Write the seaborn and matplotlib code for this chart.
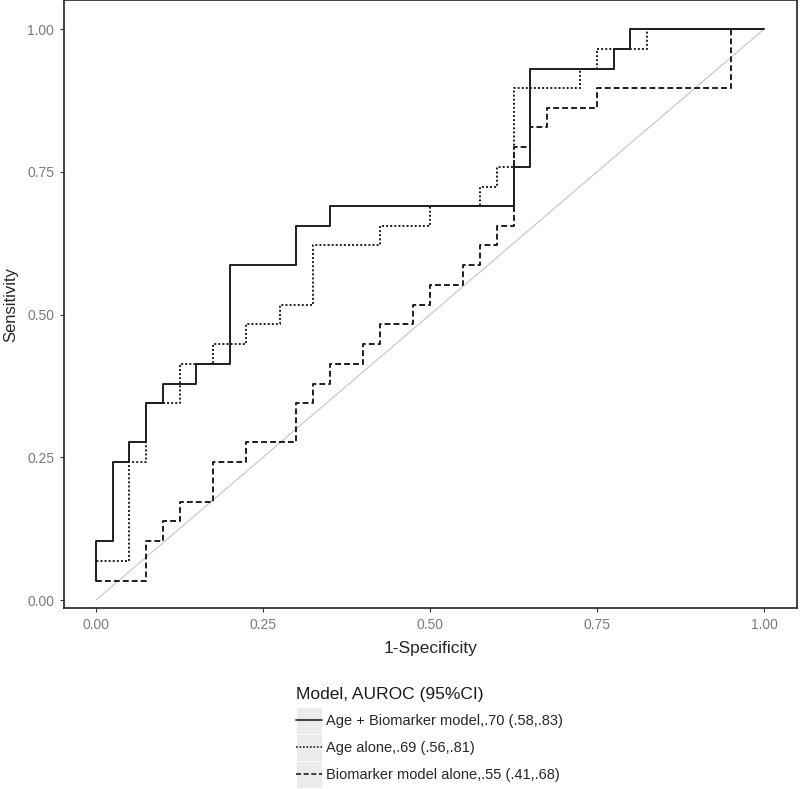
import pandas as pd
import matplotlib
matplotlib.use('Agg')
import matplotlib.pyplot as plt
from matplotlib.lines import Line2D
from matplotlib.patches import Rectangle
import seaborn as sns

# ROC staircase corners
combo_fpr = [0, 0, 0.025, 0.025, 0.05, 0.05, 0.075, 0.075, 0.1, 0.1, 0.15, 0.15, 0.2, 0.2,
             0.3, 0.3, 0.35, 0.35, 0.625, 0.625, 0.65, 0.65, 0.775, 0.775, 0.8, 0.8, 1.0]
combo_tpr = [0.034, 0.103, 0.103, 0.241, 0.241, 0.276, 0.276, 0.345, 0.345, 0.379, 0.379, 0.414,
             0.414, 0.586, 0.586, 0.655, 0.655, 0.690, 0.690, 0.759, 0.759, 0.931, 0.931, 0.966,
             0.966, 1.0, 1.0]

age_fpr = [0, 0, 0.05, 0.05, 0.075, 0.075, 0.125, 0.125, 0.175, 0.175, 0.225, 0.225, 0.275,
           0.275, 0.325, 0.325, 0.425, 0.425, 0.5, 0.5, 0.575, 0.575, 0.6, 0.6, 0.625, 0.625,
           0.725, 0.725, 0.75, 0.75, 0.825, 0.825, 1.0]
age_tpr = [0.034, 0.069, 0.069, 0.241, 0.241, 0.345, 0.345, 0.414, 0.414, 0.448, 0.448, 0.483,
           0.483, 0.517, 0.517, 0.621, 0.621, 0.655, 0.655, 0.690, 0.690, 0.724, 0.724, 0.759,
           0.759, 0.897, 0.897, 0.931, 0.931, 0.966, 0.966, 1.0, 1.0]

bio_fpr = [0, 0.075, 0.075, 0.1, 0.1, 0.125, 0.125, 0.175, 0.175, 0.225, 0.225, 0.3, 0.3,
           0.325, 0.325, 0.35, 0.35, 0.4, 0.4, 0.425, 0.425, 0.475, 0.475, 0.5, 0.5, 0.55, 0.55,
           0.575, 0.575, 0.6, 0.6, 0.625, 0.625, 0.65, 0.65, 0.675, 0.675, 0.75, 0.75, 0.95,
           0.95, 1.0]
bio_tpr = [0.034, 0.034, 0.103, 0.103, 0.138, 0.138, 0.172, 0.172, 0.241, 0.241, 0.276, 0.276,
           0.345, 0.345, 0.379, 0.379, 0.414, 0.414, 0.448, 0.448, 0.483, 0.483, 0.517, 0.517,
           0.552, 0.552, 0.586, 0.586, 0.621, 0.621, 0.655, 0.655, 0.793, 0.793, 0.828, 0.828,
           0.862, 0.862, 0.897, 0.897, 1.0, 1.0]

diag_x = [0, 1]
diag_y = [0, 1]

labels = ['Age + Biomarker model,.70 (.58,.83)',
          'Age alone,.69 (.56,.81)',
          'Biomarker model alone,.55 (.41,.68)']

df = pd.concat([
    pd.DataFrame({'fpr': combo_fpr, 'tpr': combo_tpr, 'model': labels[0]}),
    pd.DataFrame({'fpr': age_fpr, 'tpr': age_tpr, 'model': labels[1]}),
    pd.DataFrame({'fpr': bio_fpr, 'tpr': bio_tpr, 'model': labels[2]}),
], ignore_index=True)

sns.set_style('white')
plt.rcParams['font.family'] = ['Liberation Sans', 'DejaVu Sans']

fig = plt.figure(figsize=(8, 7.89), dpi=100)
ax = fig.add_axes([0.08, 0.2294, 0.916, 0.7706])

sns.lineplot(x=diag_x, y=diag_y, color='#c4c4c4', lw=0.8, ax=ax)

dash_map = {labels[0]: '', labels[1]: (1, 1.1), labels[2]: (3, 1.6)}
line_col = '#1e1e1e'
sns.lineplot(data=df, x='fpr', y='tpr', style='model', dashes=dash_map,
             sort=False, estimator=None, color=line_col, lw=1.4, legend=False, ax=ax)

ax.set_xlim(-0.048, 1.049)
ax.set_ylim(-0.014, 1.051)
ticks = [0, 0.25, 0.5, 0.75, 1.0]
ax.set_xticks(ticks)
ax.set_yticks(ticks)
ax.set_xticklabels(['0.00', '0.25', '0.50', '0.75', '1.00'])
ax.set_yticklabels(['0.00', '0.25', '0.50', '0.75', '1.00'])
ax.tick_params(axis='both', which='major', direction='out', length=3, width=0.8,
               color='#333333', labelcolor='#7a7a7a', labelsize=10, pad=4,
               bottom=True, left=True)

for s in ax.spines.values():
    s.set_color('#222222')
    s.set_linewidth(1.2)

ax.set_xlabel('1-Specificity', fontsize=12.5, labelpad=7)
ax.set_ylabel('Sensitivity', fontsize=12)
ax.yaxis.set_label_coords(-0.062, 0.5)


# gray key box with the line sample centred in it (ggplot style)
class KeyHandler:
    def legend_artist(self, legend, orig_handle, fontsize, handlebox):
        x0, y0 = -handlebox.xdescent, -handlebox.ydescent
        w, h = handlebox.width, handlebox.height
        tr = handlebox.get_transform()
        rect = Rectangle((x0, y0), w, h, facecolor='#ebebeb', edgecolor='white',
                         lw=0.6, transform=tr)
        ln = Line2D([x0, x0 + w], [y0 + h / 2, y0 + h / 2])
        ln.update_from(orig_handle)
        ln.set_transform(tr)
        handlebox.add_artist(rect)
        handlebox.add_artist(ln)
        return ln


handles = []
for lab in labels:
    handles.append(Line2D([], [], color=line_col, lw=1.2,
                          linestyle=('-' if dash_map[lab] == '' else (0, dash_map[lab]))))

fig.text(296 / 800, 1 - 695 / 789, 'Model, AUROC (95%CI)', fontsize=12.5,
         ha='left', va='center', color='#1a1a1a')
leg = fig.legend(handles, labels, loc='upper left', bbox_to_anchor=(296 / 800, 1 - 707 / 789),
                 frameon=False, fontsize=10.5, handlelength=1.78, handleheight=2.47,
                 labelspacing=0.0, handletextpad=0.3, borderpad=0, borderaxespad=0,
                 handler_map={Line2D: KeyHandler()})

fig.savefig('out.png', dpi=100)
